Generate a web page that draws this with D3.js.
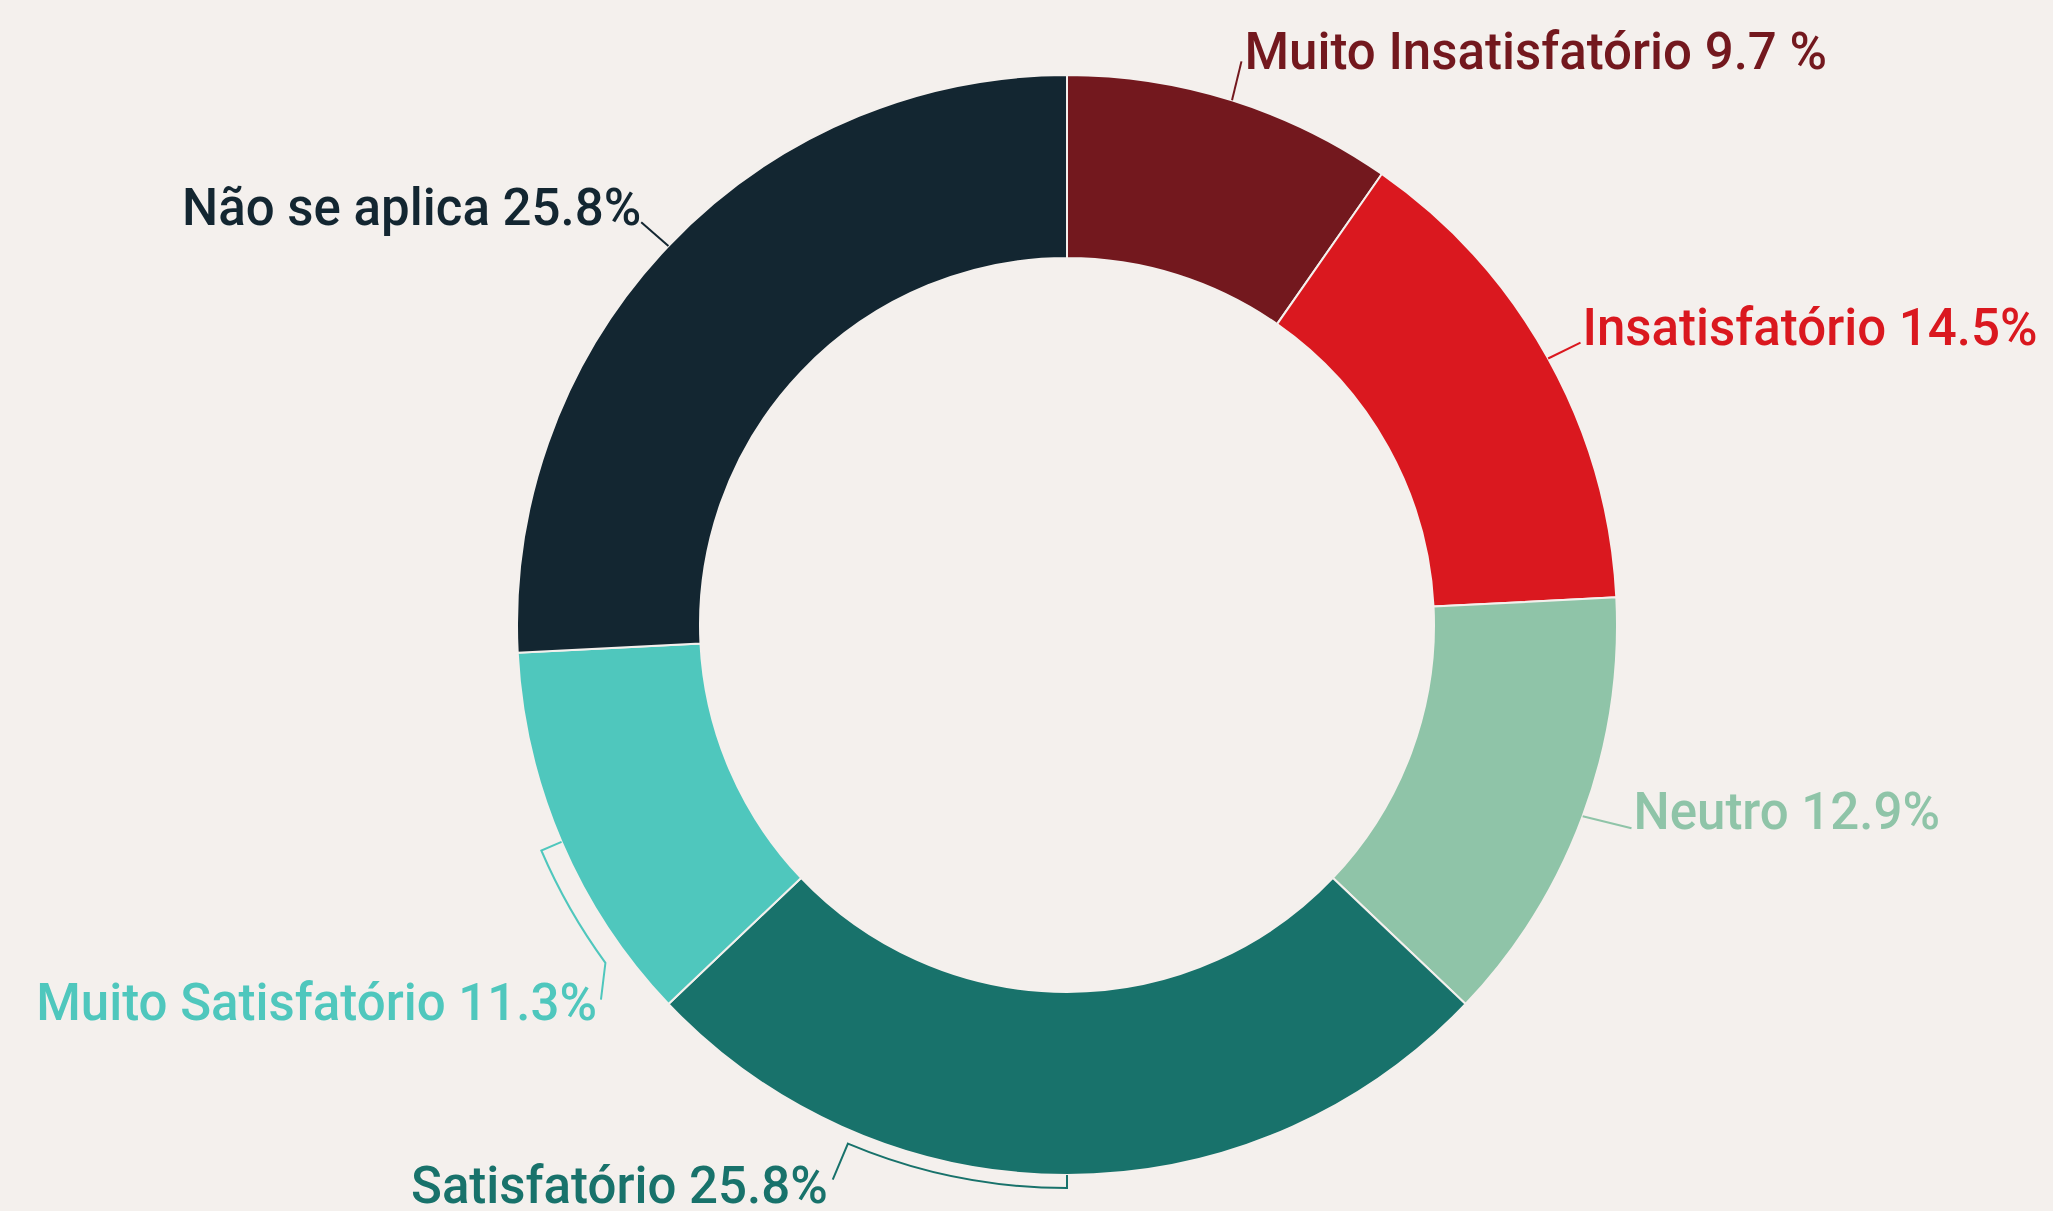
<!DOCTYPE html>
<html>
<head>
<meta charset="utf-8">
<script src="https://cdn.jsdelivr.net/npm/d3@7"></script>
<style>
  html, body { margin: 0; padding: 0; background: #f4f0ed; }
  svg { display: block; }
</style>
</head>
<body>
<div id="chart"></div>
<script>
"use strict"

// data, clockwise from 12 o'clock
const categories = ["Muito Insatisfatório", "Insatisfatório", "Neutro", "Satisfatório", "Muito Satisfatório", "Não se aplica"];
const values = [9.7, 14.5, 12.9, 25.8, 11.3, 25.8];
const valueLabels = ["9.7 %", "14.5%", "12.9%", "25.8%", "11.3%", "25.8%"];
const colors = ["#73181e", "#da181f", "#8fc4a8", "#18726b", "#4fc7bd", "#132631"];

// label placement (degrees clockwise from top), leader radii, text nudges
const labelLayout = [
  { angle: 17.2, radius: 590, bend: null, dx: 3, dy: 8 },
  { angle: 61.2, radius: 586, bend: null, dx: 2, dy: 2 },
  { angle: 109.8, radius: 600, bend: null, dx: 2, dy: 1 },
  { angle: 202.9, radius: 602, bend: { radius: 563, to: 202.9 }, dx: -5, dy: 23 },
  { angle: 231.2, radius: 598, bend: { radius: 572, to: 233.8 }, dx: -4, dy: 20 },
  { angle: 313.4, radius: 586, bend: null, dx: 0, dy: 3 }
];

const width = 2053;
const height = 1211;
const cx = 1067;
const cy = 625;
const outerR = 550;
const innerR = 367;
const bg = "#f4f0ed";

const rows = categories.map((c, i) => ({
  category: c,
  value: values[i],
  valueLabel: valueLabels[i],
  color: colors[i],
  layout: labelLayout[i]
}));

const svg = d3.select("#chart").append("svg")
  .attr("width", width)
  .attr("height", height)
  .style("background", bg);

const g = svg.append("g")
  .attr("transform", `translate(${cx},${cy})`);

const pie = d3.pie()
  .sort(null)
  .value(d => d.value);

const arc = d3.arc()
  .innerRadius(innerR)
  .outerRadius(outerR);

const arcs = pie(rows);

g.selectAll("path.slice")
  .data(arcs)
  .enter().append("path")
  .attr("class", "slice")
  .attr("d", arc)
  .style("fill", d => d.data.color)
  .style("stroke", bg)
  .style("stroke-width", 2);

// polar helper: degrees clockwise from 12 o'clock
function polar(deg, r) {
  let a = deg * Math.PI / 180;
  return [Math.sin(a) * r, -Math.cos(a) * r];
}

function leaderPath(d) {
  let mid = (d.startAngle + d.endAngle) / 2 * 180 / Math.PI;
  let L = d.data.layout;
  let p = d3.path();
  let p0 = polar(mid, outerR);
  p.moveTo(p0[0], p0[1]);
  if (L.bend) {
    let p1 = polar(mid, L.bend.radius);
    p.lineTo(p1[0], p1[1]);
    let a0 = (mid - 90) * Math.PI / 180;
    let a1 = (L.bend.to - 90) * Math.PI / 180;
    p.arc(0, 0, L.bend.radius, a0, a1, L.bend.to < mid);
  }
  let pe = polar(L.angle, L.radius);
  p.lineTo(pe[0], pe[1]);
  return p.toString();
}

g.selectAll("path.leader")
  .data(arcs)
  .enter().append("path")
  .attr("class", "leader")
  .attr("d", leaderPath)
  .style("fill", "none")
  .style("stroke", d => d.data.color)
  .style("stroke-width", 2);

g.selectAll("text.label")
  .data(arcs)
  .enter().append("text")
  .attr("class", "label")
  .attr("x", d => polar(d.data.layout.angle, d.data.layout.radius)[0] + d.data.layout.dx)
  .attr("y", d => polar(d.data.layout.angle, d.data.layout.radius)[1] + d.data.layout.dy)
  .attr("text-anchor", d => d.data.layout.angle < 180 ? "start" : "end")
  .style("font-family", "Roboto, sans-serif")
  .style("font-size", "51px")
  .style("font-weight", 500)
  .style("fill", d => d.data.color)
  .text(d => d.data.category + " " + d.data.valueLabel);
</script>
</body>
</html>
